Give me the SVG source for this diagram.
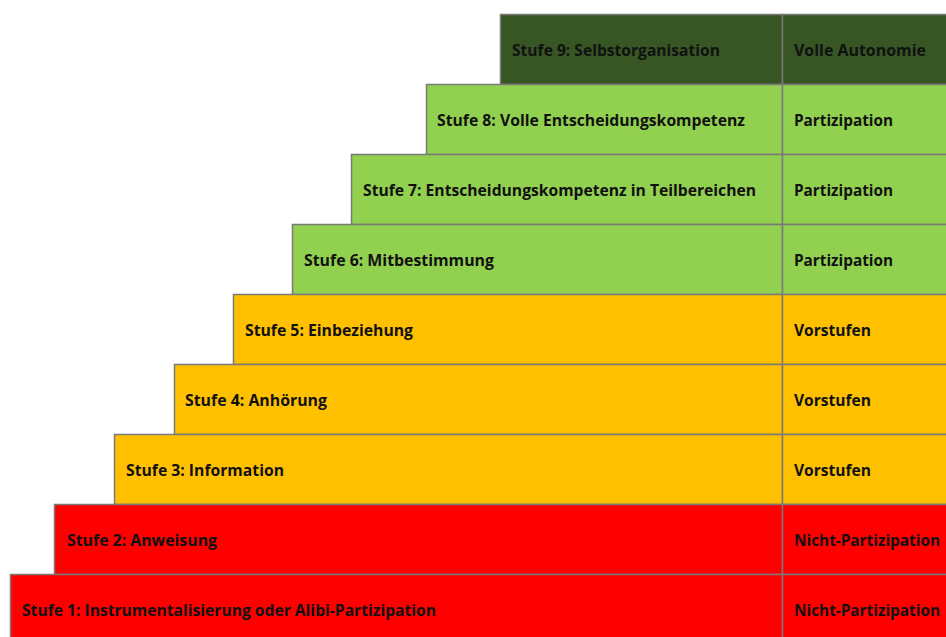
<svg xmlns="http://www.w3.org/2000/svg" width="946" height="637" viewBox="0 0 946 637">
<style>
.c{stroke:#7a7a7a;stroke-width:1.5}
.r{fill:#ff0000}.o{fill:#ffc000}.g{fill:#92d050}.d{fill:#375623}
text{font-family:"Open Sans","Liberation Sans",sans-serif;font-weight:bold;font-size:16px;fill:#111}
</style>
<rect width="946" height="637" fill="#fff"/>
<g id="stufe9"><rect class="c d" x="500.5" y="14.5" width="282" height="70"/><rect class="c d" x="782.5" y="14.5" width="170" height="70"/>
<text x="512" y="55.5" textLength="208" lengthAdjust="spacingAndGlyphs">Stufe 9: Selbstorganisation</text>
<text x="794" y="55.5" textLength="132" lengthAdjust="spacingAndGlyphs">Volle Autonomie</text></g>
<g id="stufe8"><rect class="c g" x="426.5" y="84.5" width="356" height="70"/><rect class="c g" x="782.5" y="84.5" width="170" height="70"/>
<text x="437" y="125.5" textLength="308" lengthAdjust="spacingAndGlyphs">Stufe 8: Volle Entscheidungskompetenz</text>
<text x="794" y="125.5" textLength="99" lengthAdjust="spacingAndGlyphs">Partizipation</text></g>
<g id="stufe7"><rect class="c g" x="351.5" y="154.5" width="431" height="70"/><rect class="c g" x="782.5" y="154.5" width="170" height="70"/>
<text x="363" y="195.5" textLength="393" lengthAdjust="spacingAndGlyphs">Stufe 7: Entscheidungskompetenz in Teilbereichen</text>
<text x="794" y="195.5" textLength="99" lengthAdjust="spacingAndGlyphs">Partizipation</text></g>
<g id="stufe6"><rect class="c g" x="292.5" y="224.5" width="490" height="70"/><rect class="c g" x="782.5" y="224.5" width="170" height="70"/>
<text x="304" y="265.5" textLength="190" lengthAdjust="spacingAndGlyphs">Stufe 6: Mitbestimmung</text>
<text x="794" y="265.5" textLength="99" lengthAdjust="spacingAndGlyphs">Partizipation</text></g>
<g id="stufe5"><rect class="c o" x="233.5" y="294.5" width="549" height="70"/><rect class="c o" x="782.5" y="294.5" width="170" height="70"/>
<text x="245" y="335.5" textLength="168" lengthAdjust="spacingAndGlyphs">Stufe 5: Einbeziehung</text>
<text x="794" y="335.5" textLength="77" lengthAdjust="spacingAndGlyphs">Vorstufen</text></g>
<g id="stufe4"><rect class="c o" x="174.5" y="364.5" width="608" height="70"/><rect class="c o" x="782.5" y="364.5" width="170" height="70"/>
<text x="185" y="405.5" textLength="142" lengthAdjust="spacingAndGlyphs">Stufe 4: Anhörung</text>
<text x="794" y="405.5" textLength="77" lengthAdjust="spacingAndGlyphs">Vorstufen</text></g>
<g id="stufe3"><rect class="c o" x="114.5" y="434.5" width="668" height="70"/><rect class="c o" x="782.5" y="434.5" width="170" height="70"/>
<text x="126" y="475.5" textLength="158" lengthAdjust="spacingAndGlyphs">Stufe 3: Information</text>
<text x="794" y="475.5" textLength="77" lengthAdjust="spacingAndGlyphs">Vorstufen</text></g>
<g id="stufe2"><rect class="c r" x="54.5" y="504.5" width="728" height="70"/><rect class="c r" x="782.5" y="504.5" width="170" height="70"/>
<text x="67" y="545.5" textLength="150" lengthAdjust="spacingAndGlyphs">Stufe 2: Anweisung</text>
<text x="794" y="545.5" textLength="146" lengthAdjust="spacingAndGlyphs">Nicht-Partizipation</text></g>
<g id="stufe1"><rect class="c r" x="10.5" y="574.5" width="772" height="70"/><rect class="c r" x="782.5" y="574.5" width="170" height="70"/>
<text x="22" y="615.5" textLength="414" lengthAdjust="spacingAndGlyphs">Stufe 1: Instrumentalisierung oder Alibi-Partizipation</text>
<text x="794" y="615.5" textLength="146" lengthAdjust="spacingAndGlyphs">Nicht-Partizipation</text></g>
<g id="connectors"/>
</svg>
